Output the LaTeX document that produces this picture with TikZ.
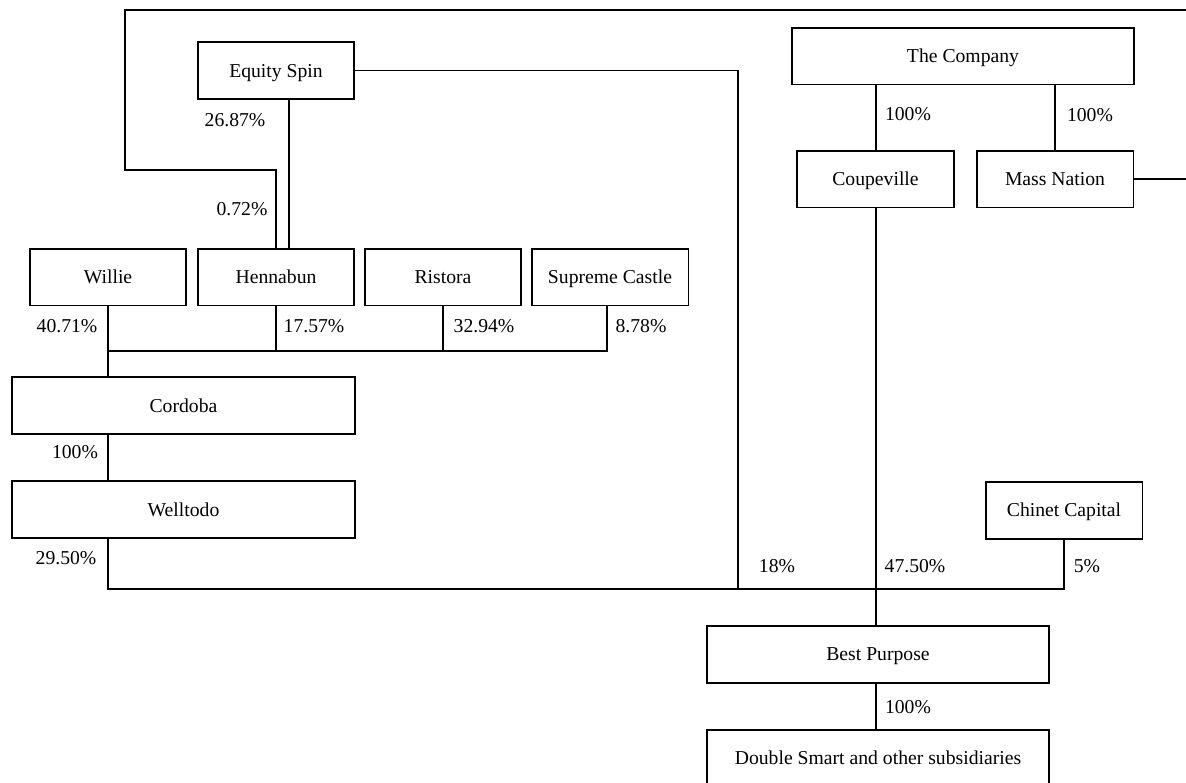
\documentclass[tikz,border=0pt]{standalone}
\usepackage{fontspec}
\setmainfont{Liberation Serif}
\usepackage{tikz}
\usetikzlibrary{positioning}

\begin{document}
\begin{tikzpicture}[x=0.02cm,y=-0.02cm,line width=1.13pt,
  every node/.style={font=\fontsize{11.2}{13}\selectfont,text height=8.4pt,text depth=1pt},
  firm/.style={draw,line width=1.13pt,minimum height=1.14cm,inner sep=0pt},
  small/.style={firm,minimum width=3.14cm},
  wide/.style={firm,minimum width=6.86cm}]
\useasboundingbox (0,0) rectangle (1186,782);
\node[wide]  (company)  at (963,56)    {The Company};
\node[small] (coupe)    at (875.5,179) {Coupeville};
\node[small] (mass)     at (1055,179)  {Mass Nation};
\node[small] (equity)   at (276,70.5)  {Equity Spin};
\node[small] (willie)   at (108,277)   {Willie};
\node[small] (henna)    at (276,277)   {Hennabun};
\node[small] (ristora)  at (443,277)   {Ristora};
\node[small] (supreme)  at (610,277)   {Supreme Castle};
\node[wide]  (cordoba)  at (183.5,405.5) {Cordoba};
\node[wide]  (welltodo) at (183.5,509.5) {Welltodo};
\node[small] (chinet)   at (1064,510)  {Chinet Capital};
\node[wide]  (best)     at (878,654)   {Best Purpose};
\node[wide]  (double)   at (878,758)   {Double Smart and other subsidiaries};
\coordinate (loopne) at (1195,10);
\coordinate (loopnw) at (125,10);
\coordinate (loopsw) at (125,170);
\coordinate (esjoin) at (738,589);
\coordinate (ownbus) at (0,351);
\coordinate (bus)    at (0,589);
\draw (coupe.north |- company.south) -- (coupe.north);
\draw (mass.north |- company.south) -- (mass.north);
\draw (mass.east) -| (loopne) -- (loopnw) -- (loopsw) -| (henna.north);
\draw ([xshift=0.26cm]equity.south) -- ([xshift=0.26cm]henna.north);
\draw (equity.east) -| (esjoin);
\draw (willie.south) -- (willie.south |- cordoba.north);
\draw (henna.south) -- (henna.south |- ownbus);
\draw (ristora.south) -- (ristora.south |- ownbus);
\draw ([xshift=-0.06cm]supreme.south) |- (willie.south |- ownbus);
\draw (willie.south |- cordoba.south) -- (willie.south |- welltodo.north);
\draw (willie.south |- welltodo.south) |- (chinet.south |- bus) -- (chinet.south);
\draw (coupe.south) -- (coupe.south |- best.north);
\draw (coupe.south |- best.south) -- (coupe.south |- double.north);
\node (p2687) at (235,120) {26.87\%};
\node (p072)  at (242,209) {0.72\%};
\node (p4071) at (67,326)  {40.71\%};
\node (p1757) at (314,326) {17.57\%};
\node (p3294) at (484,326) {32.94\%};
\node (p878)  at (641,326) {8.78\%};
\node (pcor)  at (75,452)  {100\%};
\node (p2950) at (66,558)  {29.50\%};
\node (p18)   at (777,566) {18\%};
\node (p4750) at (915,566) {47.50\%};
\node (p5)    at (1087,566) {5\%};
\node (pcou)  at (908,114) {100\%};
\node (pmas)  at (1090,115) {100\%};
\node (pbest) at (908,707) {100\%};
\end{tikzpicture}
\end{document}
